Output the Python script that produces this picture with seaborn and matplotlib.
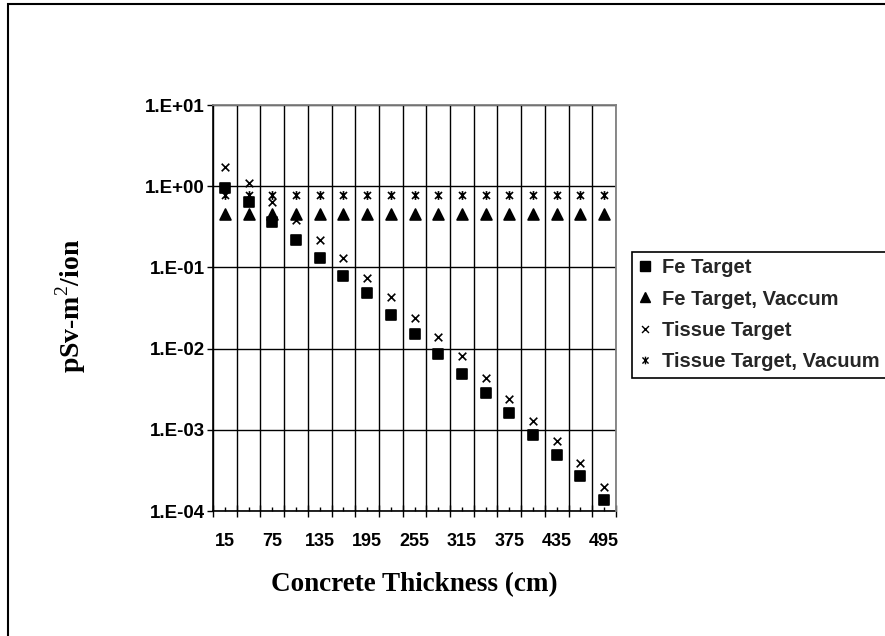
import numpy as np
import pandas as pd
import matplotlib
matplotlib.use("Agg")
import matplotlib.pyplot as plt
import matplotlib.patches as mpatches
from matplotlib.path import Path
from matplotlib.lines import Line2D
from matplotlib.ticker import FixedLocator, FuncFormatter, NullLocator
import seaborn as sns

# Concrete thickness (cm) for each shielding case
thickness = [15, 45, 75, 105, 135, 165, 195, 225, 255, 285, 315, 345, 375, 405, 435, 465, 495]

# Dose per ion (pSv-m^2/ion)
fe_target = [0.95, 0.63, 0.36, 0.22, 0.13, 0.078, 0.048, 0.026, 0.015, 0.0087,
             0.0049, 0.0028, 0.0016, 0.00087, 0.00049, 0.00027, 0.000138]
fe_target_vacuum = [0.46] * 17
tissue_target = [1.7, 1.1, 0.63, 0.38, 0.22, 0.13, 0.074, 0.043, 0.024, 0.014,
                 0.0082, 0.0044, 0.0024, 0.0013, 0.00073, 0.00039, 0.0002]
tissue_target_vacuum = [0.78] * 17

series_names = ["Fe Target", "Fe Target, Vaccum", "Tissue Target", "Tissue Target, Vacuum"]
series_values = [fe_target, fe_target_vacuum, tissue_target, tissue_target_vacuum]

df = pd.DataFrame({
    "thickness": np.tile(thickness, len(series_names)),
    "dose": np.concatenate(series_values),
    "series": np.repeat(series_names, len(thickness)),
})

# Line-art markers as paths (cross and asterisk)
cross = Path([(-1, -1), (1, 1), (-1, 1), (1, -1)],
             [Path.MOVETO, Path.LINETO, Path.MOVETO, Path.LINETO])
star = Path([(-1, -1), (1, 1), (-1, 1), (1, -1), (0, -1.25), (0, 1.25)],
            [Path.MOVETO, Path.LINETO, Path.MOVETO, Path.LINETO, Path.MOVETO, Path.LINETO])
marker_map = {
    "Fe Target": "s",
    "Fe Target, Vaccum": "^",
    "Tissue Target": cross,
    "Tissue Target, Vacuum": star,
}
size_map = {"Fe Target": 48, "Fe Target, Vaccum": 62, "Tissue Target": 30, "Tissue Target, Vacuum": 40}

sns.set_theme(style="white")
plt.rcParams["font.family"] = ["Liberation Sans", "DejaVu Sans"]
plt.rcParams["mathtext.fontset"] = "custom"
plt.rcParams["mathtext.rm"] = "Liberation Serif"
plt.rcParams["mathtext.bf"] = "Liberation Serif:bold"

fig = plt.figure(figsize=(8.85, 6.36), dpi=100)
fig.patch.set_facecolor("white")
W, H = 885, 636
ax = fig.add_axes([213 / W, 1 - 511 / H, (616 - 213) / W, (511 - 105) / H])
ax.set_facecolor("white")

for name in series_names:
    sub = df[df["series"] == name]
    sns.scatterplot(data=sub, x="thickness", y="dose", marker=marker_map[name],
                    s=size_map[name], color="black", edgecolor="black",
                    linewidth=1.2, legend=False, ax=ax, zorder=3)

ax.set_yscale("log")
ax.set_ylim(1e-4, 1e1)
ax.set_xlim(0, 510)

# y axis: decades with Excel-style labels
ax.yaxis.set_major_locator(FixedLocator([1e-4, 1e-3, 1e-2, 1e-1, 1e0, 1e1]))
ax.yaxis.set_minor_locator(NullLocator())
ax.yaxis.set_major_formatter(FuncFormatter(lambda v, p: f"1.E{int(round(np.log10(v))):+03d}"))

# x axis: category centres carry labels, boundaries carry gridlines
ax.xaxis.set_major_locator(FixedLocator(thickness))
ax.xaxis.set_major_formatter(FuncFormatter(
    lambda v, p: str(int(round(v))) if int(round(v)) in thickness[::2] else ""))
boundaries = list(range(0, 511, 30))
ax.xaxis.set_minor_locator(FixedLocator(boundaries))

ax.set_axisbelow(True)
ax.grid(False)
ax.grid(True, which="major", axis="y", color="black", linewidth=1.0)
ax.grid(True, which="minor", axis="x", color="black", linewidth=1.0)

ax.tick_params(axis="y", which="major", direction="out", length=4, width=1.0,
               color="black", left=True, pad=2, labelsize=13.5)
ax.tick_params(axis="x", which="major", direction="in", length=3, width=1.0,
               color="black", bottom=True, pad=16, labelsize=13)
ax.tick_params(axis="x", which="minor", direction="inout", length=9, width=1.0,
               color="black", bottom=True)
for lbl in ax.get_xticklabels() + ax.get_yticklabels():
    lbl.set_fontweight("bold")
    lbl.set_color("black")

for side in ["left", "bottom"]:
    ax.spines[side].set_color("black")
    ax.spines[side].set_linewidth(1.2)
for side in ["top", "right"]:
    ax.spines[side].set_color("#808080")
    ax.spines[side].set_linewidth(1.3)
    ax.spines[side].set_zorder(4)

ax.set_xlabel("Concrete Thickness (cm)", fontsize=19.5, fontweight="bold",
              family="Liberation Serif", color="black", va="top")
ax.xaxis.set_label_coords(0.5, -0.15)
ax.set_ylabel(r"pSv-m$^{2}$/ion", fontsize=20, fontweight="bold",
              family="Liberation Serif", color="black")
ax.yaxis.set_label_coords(-0.31, 0.505)

handles = []
for name in series_names:
    ms = {"Fe Target": 6.5, "Fe Target, Vaccum": 7.5, "Tissue Target": 5,
          "Tissue Target, Vacuum": 5.5}[name]
    handles.append(Line2D([], [], linestyle="none", marker=marker_map[name],
                          markersize=ms, color="black", markerfacecolor="black",
                          markeredgecolor="black", markeredgewidth=1.0, label=name))
leg = ax.legend(handles=handles, loc="upper left",
                bbox_to_anchor=(632 / W, 1 - 252 / H), bbox_transform=fig.transFigure,
                frameon=True, fancybox=False, edgecolor="black", framealpha=1,
                borderpad=0.3, handlelength=0.7, handletextpad=0.5,
                labelspacing=0.62, borderaxespad=0,
                prop={"family": "Liberation Sans", "weight": "bold", "size": 14.5})
leg.get_frame().set_linewidth(1.2)

# Chart border (continues past the right and bottom edges)
fig.patches.append(mpatches.Rectangle((8 / W, -0.05), 1.1, 1 - 4 / H + 0.05,
                                      transform=fig.transFigure, fill=False,
                                      edgecolor="black", linewidth=1.5))

fig.savefig("out.png", dpi=100, facecolor="white")
